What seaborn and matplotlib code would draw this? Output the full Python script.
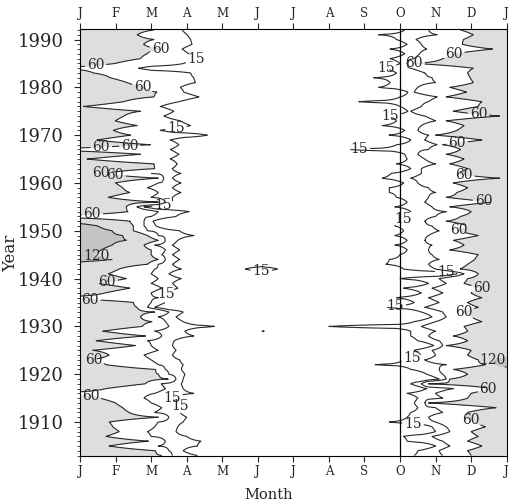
import numpy as np
import matplotlib
matplotlib.use('Agg')
import matplotlib.pyplot as plt
import seaborn as sns

# years of record (one row per year)
years = list(range(1903, 1993))

# month position (0 = 1 Jan, 12 = next 1 Jan) where each contour is crossed
# spring side: end of >60 region, then 30, then 15
spring_60 = [2.3, 2.12, 0.82, 1.93, 0.73, 1.1, 0.92, 0.82, 2.21, 1.38,
             1.2, 1.0, 0.55, -0.2, 0.73, 1.84, 2.49, 2.21, 2.12, 0.73,
             0.27, 0.82, 0.36, 1.56, 0.45, 1.84, 0.64, 1.75, 2.03, 1.7,
             2.1, 1.6, 1.5, -0.2, 0.7, 1.4, 0.5, 1.3, 0.8, 1.1,
             1.9, 2.2, 2.0, 2.0, 1.8, 2.2, 1.9, 1.5, 1.5, 1.4,
             -0.1, 1.35, 1.3, 2.2, 0.8, 1.4, 1.2, 1.0, 2.2, 0.6,
             2.1, 2.08, 0.2, 1.7, -0.3, 1.98, 0.48, 1.42, 0.94, 1.61,
             0.99, 1.23, 1.7, 0.1, 1.23, 2.08, 2.17, 1.79, 1.32, 0.85,
             0.38, -0.5, 0.99, 1.7, 1.88, 2.26, 1.79, 2.08, 1.61, 2.08]
# no separate 30 line after 1962 on the spring side
spring_30 = [2.6, 2.5, 2.2, 2.4, 2.0, 1.9, 2.1, 2.2, 2.5, 2.1,
             2.3, 2.0, 1.8, 2.1, 2.4, 2.3, 2.7, 2.5, 2.4, 2.2,
             2.0, 1.8, 2.2, 2.0, 1.9, 2.3, 2.1, 2.5, 2.4, 2.2,
             2.5, 1.9, 2.0, 2.2, 2.0, 2.3, 2.0, 2.2, 2.0, 2.1,
             2.2, 2.4, 2.3, 2.4, 2.1, 2.4, 2.2, 1.9, 1.8, 1.8,
             2.0, 2.2, 1.6, 2.4, 2.0, 2.2, 1.9, 2.2, 2.35, 2.0] + [None] * 30
spring_15 = [3.3, 2.9, 3.3, 3.4, 3.0, 2.7, 2.75, 2.9, 3.0, 2.8,
             2.9, 2.7, 2.6, 3.2, 2.9, 2.85, 2.9, 2.95, 2.85, 2.9,
             2.8, 2.6, 2.7, 2.6, 2.65, 3.2, 2.95, 3.78, 2.9, 2.7,
             2.9, 2.1, 2.4, 2.5, 2.4, 2.75, 2.6, 2.85, 2.5, 2.85,
             2.6, 2.8, 2.6, 2.8, 2.6, 2.75, 3.21, 2.8, 2.14, 2.05,
             2.7, 3.07, 1.8, 2.6, 2.6, 2.84, 2.6, 2.84, 2.6, 2.84,
             2.59, 2.73, 2.54, 2.78, 2.54, 2.78, 2.54, 3.58, 2.26, 3.11,
             2.82, 2.36, 2.64, 2.26, 2.78, 3.34, 2.92, 2.82, 3.25, 3.2,
             3.11, 1.65, 2.92, 3.3, 3.06, 2.87, 3.15, 3.11, 3.01, 2.87]
# autumn side: start of >15, >30, >60
autumn_15 = [9.4, 9.5, 10.0, 9.2, 9.1, 10.0, 9.9, 8.7, 9.2, 9.3,
             9.5, 9.4, 9.5, 9.2, 9.75, 9.3, 10.1, 9.75, 9.3, 8.3,
             9.1, 9.6, 9.4, 9.95, 9.5, 9.3, 9.3, 7.0, 9.4, 9.9,
             9.6, 8.6, 9.4, 8.9, 9.6, 9.1, 9.8, 9.0, 10.6, 9.1,
             8.6, 8.7, 9.0, 9.2, 8.85, 9.2, 8.85, 9.1, 8.85, 8.9,
             9.2, 9.3, 8.85, 9.2, 8.9, 8.7, 8.7, 9.1, 8.5, 8.75,
             9.3, 8.9, 9.2, 9.13, 7.57, 8.9, 9.3, 8.7, 9.13, 8.5,
             8.9, 8.6, 9.22, 9.0, 7.84, 9.0, 9.22, 8.4, 8.72, 8.26,
             8.9, 8.5, 9.0, 8.72, 9.13, 8.72, 9.2, 8.9, 8.39, 9.13]
autumn_30 = [10.2, 10.1, 10.4, 10.2, 9.9, 10.4, 10.3, 10.0, 9.8, 10.2,
             10.0, 9.7, 10.2, 10.0, 10.5, 9.6, 10.3, 10.2, 10.1, 10.3,
             9.7, 10.0, 9.9, 10.2, 10.1, 9.8, 10.0, 9.6, 10.0, 10.3,
             10.2, 9.7, 10.1, 9.8, 10.2, 9.9, 10.3, 10.1, 10.8, 10.0,
             9.8, 10.1, 9.9, 9.8, 9.9, 9.7, 9.8, 10.1, 9.9, 9.7,
             10.0, 10.3, 9.9, 9.7, 9.8, 10.0, 9.8, 9.5, 9.3, 9.6,
             9.6, 10.0, 9.7, 9.5, 9.8, 10.05, 9.7, 9.8, 9.5, 9.6,
             10.0, 9.7, 9.3, 9.6, 9.8, 10.05, 9.4, 9.5, 10.0, 9.9,
             9.7, 9.3, 9.2, 9.4, 9.55, 9.75, 9.6, 9.45, 10.05, 9.8]
autumn_60 = [11.0, 10.9, 11.3, 10.9, 11.2, 11.0, 11.4, 11.1, 10.8, 10.9,
             11.7, 9.8, 10.9, 11.0, 11.6, 9.8, 10.4, 10.9, 10.5, 11.4,
             11.2, 10.9, 11.0, 10.3, 10.9, 10.5, 10.9, 10.8, 11.3, 11.0,
             10.8, 11.2, 10.9, 11.3, 11.0, 11.3, 10.8, 10.9, 11.2, 10.7,
             10.9, 11.1, 11.2, 10.4, 10.8, 10.5, 11.2, 10.6, 10.9, 10.3,
             10.7, 11.0, 10.4, 11.6, 10.3, 10.6, 10.9, 10.5, 11.8, 10.6,
             10.9, 10.4, 10.8, 10.3, 10.7, 10.2, 11.3, 10.0, 10.6, 10.8,
             10.3, 11.8, 10.5, 11.2, 11.3, 10.3, 10.87, 10.4, 11.06, 10.97,
             10.9, 11.06, 9.4, 10.2, 10.5, 11.6, 10.75, 10.78, 11.06, 10.7]

# years with a >120 core at the start / end of the year
spring_120_years = [1944, 1945, 1946, 1947, 1948, 1949, 1950, 1951]
spring_120 = [0.9, 0.3, 0.6, 0.9, 1.3, 1.2, 0.9, 0.5]
autumn_120_years = [1922, 1923]
autumn_120 = [11.7, 11.6]

# isolated summer events above 15
summer_years = [1942, 1929]
summer_start = [4.2, 4.9]
summer_end = [6.0, 5.4]
summer_peak = [30, 17]

month_labels = ['J', 'F', 'M', 'A', 'M', 'J', 'J', 'A', 'S', 'O', 'N', 'D', 'J']

# where the contour labels sit (month, year)
label_pos_60 = [(2.4, 1987.8), (0.42, 1985.9), (1.76, 1980), (1.4, 1967.9),
                (0.6, 1967.3), (0.4, 1963.0), (0.98, 1961.2), (0.33, 1956),
                (0.75, 1940), (0.28, 1935), (0.37, 1922.3), (0.28, 1914.6),
                (10.5, 1987.8), (9.36, 1984.6), (11.2, 1974.1), (10.6, 1968.5),
                (10.8, 1961.6), (11.35, 1956.3), (10.65, 1950.5), (11.35, 1937),
                (10.6, 1932), (11.5, 1916.2), (10.96, 1909.8)]
label_pos_15 = [(3.27, 1985.7), (2.7, 1971.4), (2.32, 1956), (2.32, 1936.1),
                (1.9, 1917.2), (2.5, 1914.0), (5.1, 1942),
                (8.6, 1984), (8.73, 1974.5), (7.85, 1967.8), (9.14, 1951.5),
                (10.3, 1942.2), (8.86, 1934.4), (9.36, 1922.5), (9.36, 1908.9)]
label_pos_120 = [(0.47, 1944.5), (11.5, 1922.5)]

sp120 = dict(zip(spring_120_years, spring_120))
au120 = dict(zip(autumn_120_years, autumn_120))
summer = {y: (a, b, p) for y, a, b, p in zip(summer_years, summer_start, summer_end, summer_peak)}

# build the gridded field from the crossing points
xgrid = np.linspace(0, 12, 601)
field = []
hide30 = []
for i, yr in enumerate(years):
    kx, kv = [0.0], [90.0]
    if yr in sp120:
        kv[0] = 150.0
        kx.append(sp120[yr]); kv.append(120)
    elif spring_60[i] <= 0:
        kv[0] = 45.0
    if spring_60[i] > 0:
        kx.append(spring_60[i]); kv.append(60)
    if spring_30[i] is not None:
        kx.append(spring_30[i]); kv.append(30)
    kx += [spring_15[i], spring_15[i] + 0.4]
    kv += [15, 0]
    if yr in summer:
        a, b, p = summer[yr]
        kx += [a, (a + b) / 2, b]
        kv += [0, p, 0]
    kx += [autumn_15[i] - 0.4, autumn_15[i], autumn_30[i], autumn_60[i]]
    kv += [0, 15, 30, 60]
    if yr in au120:
        kx += [au120[yr], 12.0]; kv += [120, 150]
    else:
        kx.append(12.0); kv.append(90)
    field.append(np.interp(xgrid, kx, kv))
    hide30.append((xgrid < 6) & (spring_30[i] is None))
field = np.array(field)
field30 = np.ma.masked_where(np.array(hide30), field)

sns.set_theme(style='ticks')
plt.rcParams['font.family'] = ['DejaVu Serif']

fig = plt.figure(figsize=(5.11, 5.04), dpi=100)
ax = fig.add_axes([0.1566, 0.0962, 0.835, 0.8453])

line_kw = dict(colors='#2a2a2a', linewidths=0.8)
lab_kw = dict(fmt='%d', fontsize=10, inline=True, inline_spacing=2)

ax.contourf(xgrid, years, field, levels=[60, 120, 1000],
            colors=['#dedede', '#c4c4c4'])
ax.contour(xgrid, years, field30, levels=[30], **line_kw)
for lev, pos in [(15, label_pos_15), (60, label_pos_60), (120, label_pos_120)]:
    cs = ax.contour(xgrid, years, field, levels=[lev], **line_kw)
    for t in ax.clabel(cs, manual=pos, **lab_kw):
        t.set_rotation(0)

ax.axvline(9, color='black', lw=0.9)

ax.set_xlim(0, 12)
ax.set_ylim(1903, 1992.1)
ax.set_xticks(range(13))
ax.set_xticklabels(month_labels, fontsize=8.5)
ax.tick_params(axis='x', top=True, labeltop=True, direction='out',
               length=4, width=0.8, pad=3)
ax.set_yticks(range(1910, 1991, 10))
ax.set_yticks(range(1903, 1993), minor=True)
ax.tick_params(axis='y', which='major', labelsize=13, length=4, width=0.8,
               pad=8)
ax.tick_params(axis='y', which='minor', length=2, width=0.6)
ax.tick_params(axis='y', right=False)
for s in ax.spines.values():
    s.set_linewidth(0.8)
    s.set_color('black')

fig.text(11 / 511, 1 - 253 / 504, 'Year', rotation=90, ha='center',
         va='center', fontsize=12)
fig.text(269 / 511, 1 - 495 / 504, 'Month', ha='center', va='center',
         fontsize=10.5)

fig.savefig('out.png', dpi=100)
